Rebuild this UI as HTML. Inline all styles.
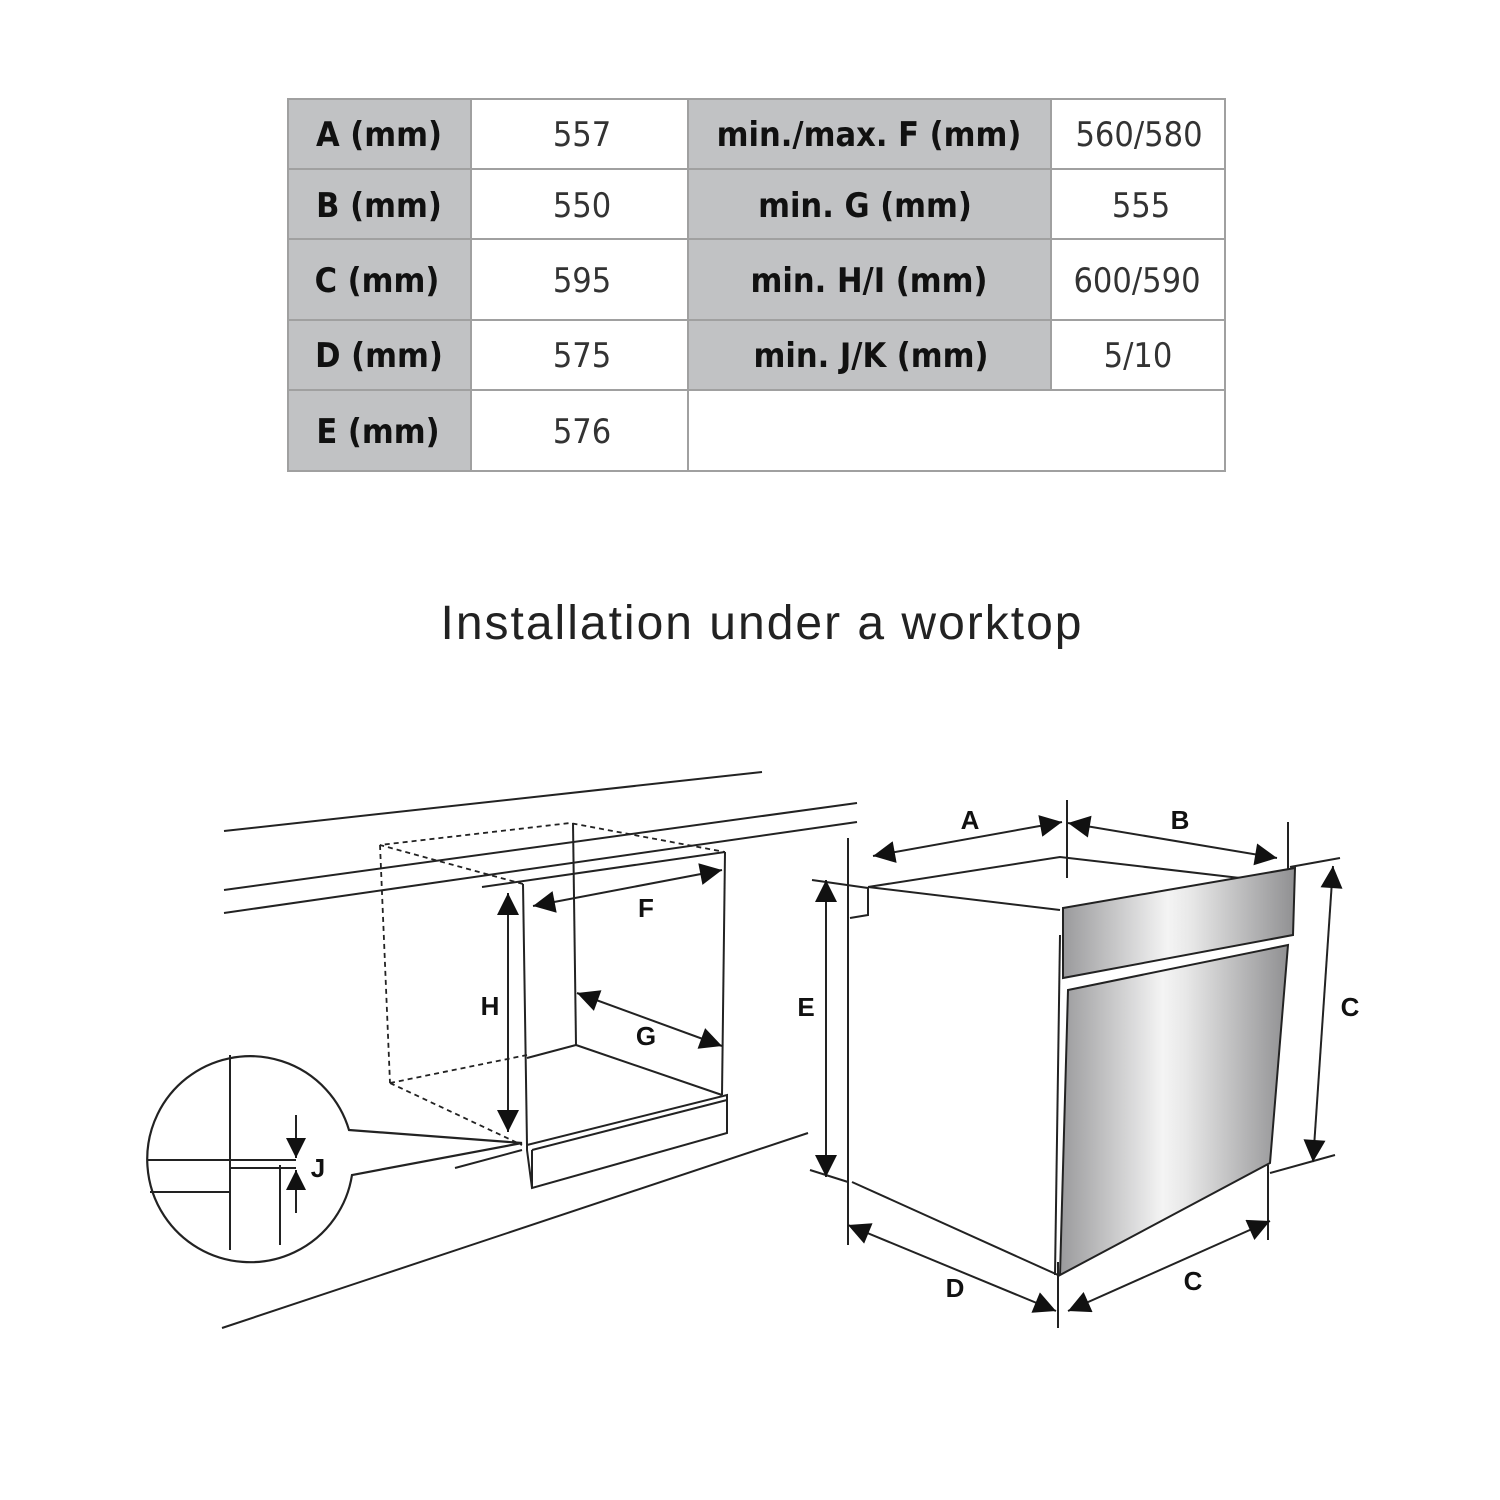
<!DOCTYPE html>
<html><head><meta charset="utf-8"><style>
html,body{margin:0;padding:0;background:#fff;}
svg{display:block}
.h{font-family:"Liberation Sans Narrow","DejaVu Sans Condensed","Liberation Sans",sans-serif;font-size:34px;font-weight:bold;fill:#111;text-anchor:middle}
.v{font-family:"Liberation Sans Narrow","DejaVu Sans Condensed","Liberation Sans",sans-serif;font-size:34px;fill:#333;text-anchor:middle}
.l{font-family:"Liberation Sans",sans-serif;font-size:26px;font-weight:bold;fill:#111;text-anchor:middle}
</style></head><body>
<svg width="1500" height="1500" viewBox="0 0 1500 1500" xmlns="http://www.w3.org/2000/svg">
<defs>
<marker id="ar" viewBox="0 0 10 10" refX="10" refY="5" markerWidth="24" markerHeight="22" orient="auto-start-reverse" markerUnits="userSpaceOnUse">
<path d="M0,0 L10,5 L0,10 z" fill="#111"/></marker>
<marker id="as" viewBox="0 0 10 10" refX="10" refY="5" markerWidth="20" markerHeight="20" orient="auto-start-reverse" markerUnits="userSpaceOnUse">
<path d="M0,0 L10,5 L0,10 z" fill="#111"/></marker>
<linearGradient id="met" x1="0" x2="1" y1="0" y2="0">
<stop offset="0" stop-color="#9a9a9c"/><stop offset="0.45" stop-color="#f4f4f4"/><stop offset="0.55" stop-color="#e8e8e8"/><stop offset="1" stop-color="#909092"/></linearGradient>
</defs>
<g stroke="#a0a0a0" stroke-width="2">
<rect x="288" y="99" width="183" height="372" fill="#c1c2c4"/>
<rect x="688" y="99" width="363" height="291" fill="#c1c2c4"/>
<rect x="288" y="99" width="937" height="372" fill="none"/>
<line x1="471" y1="99" x2="471" y2="471"/>
<line x1="688" y1="99" x2="688" y2="471"/>
<line x1="1051" y1="99" x2="1051" y2="390"/>
<line x1="288" y1="169" x2="1225" y2="169"/>
<line x1="288" y1="239" x2="1225" y2="239"/>
<line x1="288" y1="320" x2="1225" y2="320"/>
<line x1="288" y1="390" x2="1225" y2="390"/>
</g>
<text class="h" x="379" y="146">A (mm)</text><text class="v" x="582" y="146">557</text>
<text class="h" x="869" y="146">min./max. F (mm)</text><text class="v" x="1139" y="146">560/580</text>
<text class="h" x="379" y="217">B (mm)</text><text class="v" x="582" y="217">550</text>
<text class="h" x="865" y="217">min. G (mm)</text><text class="v" x="1141" y="217">555</text>
<text class="h" x="377" y="292">C (mm)</text><text class="v" x="582" y="292">595</text>
<text class="h" x="869" y="292">min. H/I (mm)</text><text class="v" x="1137" y="292">600/590</text>
<text class="h" x="379" y="367">D (mm)</text><text class="v" x="582" y="367">575</text>
<text class="h" x="871" y="367">min. J/K (mm)</text><text class="v" x="1138" y="367">5/10</text>
<text class="h" x="378" y="443">E (mm)</text><text class="v" x="582" y="443">576</text>
<text x="762" y="639" font-family="'Liberation Sans',sans-serif" font-size="48" letter-spacing="2" fill="#222" text-anchor="middle">Installation under a worktop</text>

<g stroke="#222" stroke-width="2" fill="none">
<line x1="224" y1="831" x2="762" y2="772"/>
<line x1="224" y1="890" x2="857" y2="803"/>
<line x1="224" y1="913" x2="857" y2="822"/>
<line x1="222" y1="1328" x2="808" y2="1133"/>
<g stroke-dasharray="5,4" stroke-width="1.8">
<polyline points="523,884 380,845 570,823 725,852"/>
<line x1="380" y1="845" x2="390" y2="1083"/>
<line x1="390" y1="1083" x2="527" y2="1055"/>
<line x1="390" y1="1083" x2="522" y2="1145"/>
</g>
<line x1="482" y1="887" x2="725" y2="852"/>
<line x1="523" y1="884" x2="527" y2="1145"/>
<line x1="573" y1="823" x2="576" y2="1045"/>
<line x1="725" y1="852" x2="722" y2="1095"/>
<line x1="527" y1="1058" x2="576" y2="1045"/>
<line x1="576" y1="1045" x2="722" y2="1095"/>
<polygon points="527,1145 727,1095 727,1133 532,1188 527,1150" fill="#fff"/>
<line x1="532" y1="1150" x2="727" y2="1100"/>
<line x1="532" y1="1150" x2="532" y2="1188"/>
<line x1="508" y1="893" x2="508" y2="1132" marker-start="url(#ar)" marker-end="url(#ar)"/>
<line x1="533" y1="906" x2="722" y2="870" marker-start="url(#ar)" marker-end="url(#ar)"/>
<line x1="577" y1="993" x2="722" y2="1046" marker-start="url(#ar)" marker-end="url(#ar)"/>
<path d="M349,1130 L522,1143 L352,1175 A103,103 0 1 1 349,1130 Z" fill="#fff" stroke-width="2.2"/>
<line x1="455" y1="1168" x2="522" y2="1150"/>
<line x1="230" y1="1055" x2="230" y2="1250"/>
<line x1="280" y1="1165" x2="280" y2="1245"/>
<line x1="148" y1="1160" x2="296" y2="1160"/>
<line x1="230" y1="1168" x2="296" y2="1168"/>
<line x1="150" y1="1192" x2="230" y2="1192"/>
<line x1="296" y1="1115" x2="296" y2="1158" marker-end="url(#as)"/>
<line x1="296" y1="1213" x2="296" y2="1170" marker-end="url(#as)"/>
</g>
<text class="l" x="490" y="1015">H</text>
<text class="l" x="646" y="917">F</text>
<text class="l" x="646" y="1045">G</text>
<text class="l" x="318" y="1177">J</text>

<g stroke="#222" stroke-width="2" fill="none">
<line x1="848" y1="838" x2="848" y2="1245"/>
<line x1="812" y1="880" x2="868" y2="888"/>
<line x1="810" y1="1170" x2="848" y2="1182"/>
<line x1="826" y1="880" x2="826" y2="1177" marker-start="url(#ar)" marker-end="url(#ar)"/>
<polyline points="868,887 1060,857 1240,878"/>
<line x1="868" y1="887" x2="1060" y2="910"/>
<polyline points="868,887 868,915 850,918"/>
<line x1="852" y1="1182" x2="1058" y2="1275"/>
<line x1="1060" y1="935" x2="1055" y2="1275"/>
<polygon points="1063,908 1295,868 1293,935 1063,978" fill="url(#met)"/>
<polygon points="1068,990 1288,945 1270,1163 1060,1275" fill="url(#met)"/>
<line x1="1067" y1="800" x2="1067" y2="878"/>
<line x1="1288" y1="822" x2="1288" y2="870"/>
<line x1="873" y1="856" x2="1062" y2="822" marker-start="url(#ar)" marker-end="url(#ar)"/>
<line x1="1068" y1="823" x2="1277" y2="858" marker-start="url(#ar)" marker-end="url(#ar)"/>
<line x1="1290" y1="867" x2="1340" y2="858"/>
<line x1="1270" y1="1173" x2="1335" y2="1155"/>
<line x1="1333" y1="866" x2="1313" y2="1162" marker-start="url(#ar)" marker-end="url(#ar)"/>
<line x1="1058" y1="1262" x2="1058" y2="1328"/>
<line x1="1268" y1="1165" x2="1268" y2="1240"/>
<line x1="848" y1="1225" x2="1056" y2="1311" marker-start="url(#ar)" marker-end="url(#ar)"/>
<line x1="1068" y1="1311" x2="1270" y2="1221" marker-start="url(#ar)" marker-end="url(#ar)"/>
</g>
<text class="l" x="970" y="829">A</text>
<text class="l" x="1180" y="829">B</text>
<text class="l" x="806" y="1016">E</text>
<text class="l" x="1350" y="1016">C</text>
<text class="l" x="955" y="1297">D</text>
<text class="l" x="1193" y="1290">C</text>
</svg>
</body></html>
